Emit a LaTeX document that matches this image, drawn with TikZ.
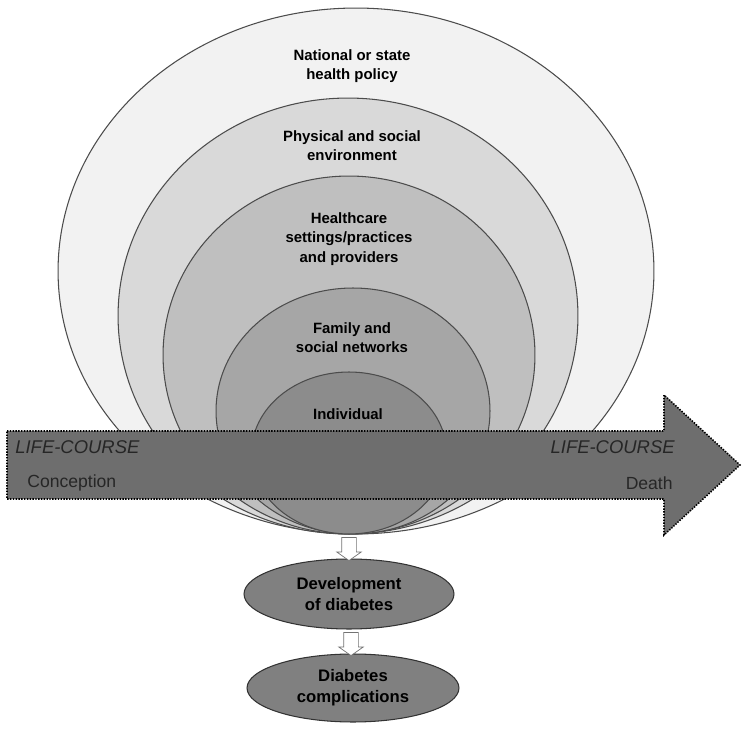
\documentclass[tikz,border=0pt]{standalone}
\usepackage{fontspec}
\setmainfont{Liberation Sans}
\usepackage{xcolor}
\usetikzlibrary{positioning,shapes.geometric,shapes.arrows,calc}
\definecolor{ringA}{HTML}{F2F2F2}
\definecolor{ringB}{HTML}{D9D9D9}
\definecolor{ringC}{HTML}{BFBFBF}
\definecolor{ringD}{HTML}{A6A6A6}
\definecolor{ringE}{HTML}{8C8C8C}
\definecolor{coursegray}{HTML}{6E6E6E}
\definecolor{outcomegray}{HTML}{808080}
\begin{document}
\begin{tikzpicture}[
  x=0.02cm,y=-0.02cm,
  ring/.style={ellipse,draw=black!70,line width=0.6pt,fill=#1,inner sep=0pt},
  ring text/.style={align=center,font=\fontsize{8.5}{11}\selectfont\bfseries},
  course arrow/.style={fill=coursegray,draw=black,line width=0.9pt,
    dash pattern=on 0.8pt off 0.8pt},
  course/.style={inner sep=0pt,text=black!85,font=\fontsize{10}{12}\selectfont},
  outcome/.style={ellipse,draw=black!80,line width=0.6pt,fill=outcomegray,
    inner sep=0pt,align=center,font=\fontsize{9.5}{12}\selectfont\bfseries},
  hollow/.style={single arrow,rotate=-90,draw=black!55,fill=white,
    inner xsep=0pt,inner ysep=0.14cm,minimum height=0.46cm,
    single arrow head extend=0.1cm,single arrow tip angle=110}]
  \useasboundingbox (0,0) rectangle (750,732);
  % levels of influence, outer to inner
  \node[ring=ringA,minimum width=11.92cm,minimum height=10.52cm] (policy) at (356,271) {};
  \node[ring=ringB,minimum width=9.2cm,minimum height=8.72cm] (environ) at (348,316) {};
  \node[ring=ringC,minimum width=7.44cm,minimum height=7.16cm] (care) at (349,355) {};
  \node[ring=ringD,minimum width=5.48cm,minimum height=4.92cm] (family) at (353,411) {};
  \node[ring=ringE,minimum width=3.9cm,minimum height=3.24cm] (self) at (349,453) {};
  \node[ring text] (policytxt) at (352,66) {National or state\\health policy};
  \node[ring text] (environtxt) at (352,146) {Physical and social\\environment};
  \node[ring text] (caretxt) at (349,239) {Healthcare\\settings/practices\\and providers};
  \node[ring text] (familytxt) at (352,338) {Family and\\social networks};
  \node[ring text] (selftxt) at (348,414) {Individual};
  % life-course arrow
  \draw[course arrow] (7,431) -- (664,431) -- (664,395) -- (740,465)
    -- (664,535) -- (664,499) -- (7,499) -- cycle;
  \node[course,anchor=west,font=\fontsize{10.5}{12}\selectfont\itshape] (lcleft) at (15,447) {LIFE-COURSE};
  \node[course,anchor=west] (birth) at (27,483) {Conception};
  \node[course,anchor=east,font=\fontsize{10.5}{12}\selectfont\itshape] (lcright) at (675,447) {LIFE-COURSE};
  \node[course,anchor=east] (death) at (673,483) {Death};
  % outcomes
  \node[outcome,minimum width=4.2cm,minimum height=1.4cm] (onset) at (349,594) {Development\\of diabetes};
  \node[outcome,minimum width=4.24cm,minimum height=1.36cm] (compl) at (353,688) {Diabetes\\complications};
  \path (self.south) -- (onset.north) node[hollow,midway] (toonset) {};
  \path (onset.south) -- (compl.north) node[hollow,midway] (tocompl) {};
\end{tikzpicture}
\end{document}
